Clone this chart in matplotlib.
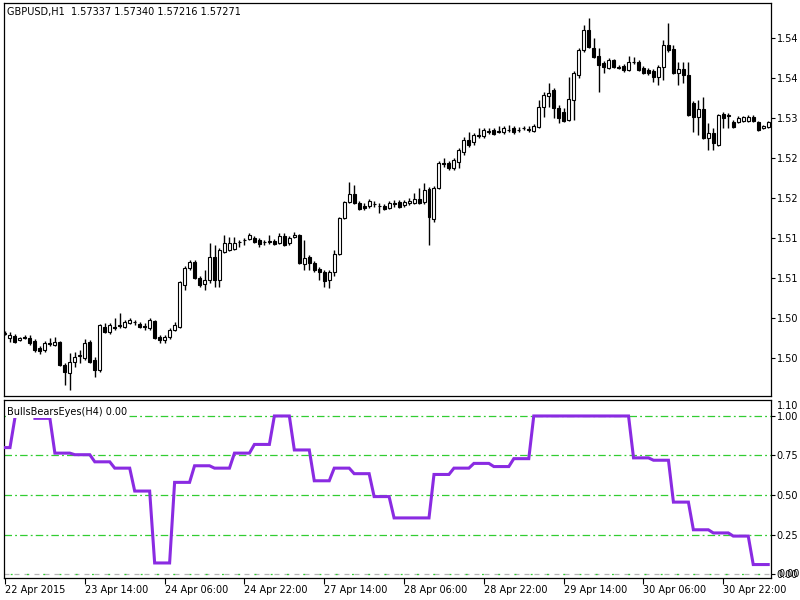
import matplotlib
matplotlib.use('Agg')
import matplotlib.pyplot as plt
import numpy as np

# GBPUSD H1 bars
opens = [1.50800, 1.50750, 1.50775, 1.50725, 1.50763, 1.50750, 1.50713, 1.50625, 1.50600, 1.50688,
         1.50663, 1.50700, 1.50413, 1.50313, 1.50450, 1.50525, 1.50500, 1.50700, 1.50475, 1.50350,
         1.50888, 1.50825, 1.50888, 1.50913, 1.50888, 1.50938, 1.50950, 1.50925, 1.50900, 1.50875,
         1.50963, 1.50763, 1.50725, 1.50763, 1.50850, 1.50888, 1.51413, 1.51625, 1.51700, 1.51500,
         1.51425, 1.51475, 1.51763, 1.51475, 1.51825, 1.51850, 1.51863, 1.51950, 1.51975, 1.51988,
         1.52000, 1.51975, 1.51950, 1.51963, 1.51963, 1.51938, 1.52025, 1.51938, 1.52013, 1.52038,
         1.51675, 1.51763, 1.51688, 1.51613, 1.51575, 1.51475, 1.51575, 1.51800, 1.52250, 1.52450,
         1.52550, 1.52438, 1.52400, 1.52400, 1.52425, 1.52400, 1.52400, 1.52375, 1.52438, 1.52450,
         1.52413, 1.52438, 1.52438, 1.52488, 1.52450, 1.52613, 1.52238, 1.52625, 1.52938, 1.52938,
         1.52875, 1.52950, 1.53075, 1.53225, 1.53200, 1.53288, 1.53275, 1.53338, 1.53350, 1.53338,
         1.53325, 1.53350, 1.53375, 1.53350, 1.53375, 1.53363, 1.53338, 1.53388, 1.53638, 1.53775,
         1.53850, 1.53625, 1.53575, 1.53475, 1.53725, 1.54038, 1.54350, 1.54600, 1.54375, 1.54275,
         1.54188, 1.54125, 1.54225, 1.54138, 1.54150, 1.54100, 1.54200, 1.54200, 1.54125, 1.54100,
         1.54088, 1.54013, 1.54138, 1.54413, 1.54363, 1.54063, 1.54113, 1.54038, 1.53688, 1.53513,
         1.53613, 1.53250, 1.53313, 1.53163, 1.53550, 1.53538, 1.53450, 1.53450, 1.53463, 1.53463,
         1.53513, 1.53450, 1.53375, 1.53388]
highs = [1.50838, 1.50825, 1.50800, 1.50763, 1.50788, 1.50788, 1.50738, 1.50650, 1.50713, 1.50750,
         1.50763, 1.50713, 1.50438, 1.50563, 1.50575, 1.50600, 1.50738, 1.50725, 1.50513, 1.50925,
         1.50938, 1.50938, 1.51000, 1.51063, 1.50975, 1.51000, 1.50975, 1.50950, 1.50938, 1.51000,
         1.50975, 1.50788, 1.50788, 1.50875, 1.50950, 1.51463, 1.51650, 1.51725, 1.51725, 1.51525,
         1.51600, 1.51938, 1.51913, 1.51875, 1.52038, 1.52013, 1.52013, 1.51975, 1.52000, 1.52063,
         1.52025, 1.52000, 1.51975, 1.52038, 1.51988, 1.52063, 1.52063, 1.52025, 1.52075, 1.52050,
         1.51975, 1.51788, 1.51713, 1.51638, 1.51600, 1.51600, 1.51850, 1.52263, 1.52463, 1.52700,
         1.52663, 1.52463, 1.52438, 1.52488, 1.52463, 1.52438, 1.52425, 1.52463, 1.52475, 1.52475,
         1.52475, 1.52500, 1.52563, 1.52625, 1.52688, 1.52638, 1.52650, 1.52963, 1.53000, 1.52963,
         1.53000, 1.53125, 1.53263, 1.53325, 1.53313, 1.53375, 1.53375, 1.53375, 1.53375, 1.53400,
         1.53400, 1.53413, 1.53400, 1.53388, 1.53400, 1.53400, 1.53425, 1.53725, 1.53825, 1.53938,
         1.53875, 1.53663, 1.53625, 1.54013, 1.54088, 1.54375, 1.54663, 1.54750, 1.54500, 1.54375,
         1.54213, 1.54250, 1.54238, 1.54163, 1.54175, 1.54275, 1.54263, 1.54225, 1.54150, 1.54125,
         1.54113, 1.54163, 1.54475, 1.54688, 1.54413, 1.54200, 1.54200, 1.54200, 1.53713, 1.53725,
         1.53763, 1.53438, 1.53375, 1.53550, 1.53575, 1.53563, 1.53475, 1.53525, 1.53525, 1.53538,
         1.53538, 1.53463, 1.53413, 1.53463]
lows = [1.50788, 1.50700, 1.50688, 1.50713, 1.50738, 1.50663, 1.50575, 1.50550, 1.50575, 1.50650,
        1.50650, 1.50400, 1.50163, 1.50100, 1.50388, 1.50438, 1.50475, 1.50438, 1.50263, 1.50325,
        1.50813, 1.50800, 1.50850, 1.50875, 1.50875, 1.50925, 1.50913, 1.50875, 1.50850, 1.50850,
        1.50738, 1.50688, 1.50688, 1.50738, 1.50838, 1.50875, 1.51350, 1.51600, 1.51488, 1.51388,
        1.51350, 1.51438, 1.51388, 1.51388, 1.51813, 1.51838, 1.51850, 1.51888, 1.51913, 1.51975,
        1.51938, 1.51888, 1.51913, 1.51925, 1.51913, 1.51925, 1.51900, 1.51913, 1.52000, 1.51675,
        1.51600, 1.51600, 1.51575, 1.51475, 1.51388, 1.51375, 1.51525, 1.51788, 1.52238, 1.52438,
        1.52425, 1.52350, 1.52350, 1.52375, 1.52388, 1.52313, 1.52350, 1.52363, 1.52388, 1.52375,
        1.52388, 1.52413, 1.52425, 1.52425, 1.52425, 1.51913, 1.52200, 1.52613, 1.52888, 1.52850,
        1.52850, 1.52875, 1.53038, 1.53138, 1.53163, 1.53250, 1.53250, 1.53300, 1.53288, 1.53313,
        1.53300, 1.53325, 1.53300, 1.53325, 1.53350, 1.53325, 1.53325, 1.53375, 1.53513, 1.53638,
        1.53500, 1.53438, 1.53450, 1.53463, 1.53475, 1.54000, 1.54325, 1.54375, 1.54250, 1.53825,
        1.54063, 1.54113, 1.54125, 1.54113, 1.54075, 1.54088, 1.54175, 1.54088, 1.54050, 1.54038,
        1.53950, 1.53913, 1.53975, 1.54325, 1.54050, 1.53913, 1.53938, 1.53525, 1.53325, 1.53288,
        1.53238, 1.53100, 1.53100, 1.53150, 1.53375, 1.53375, 1.53375, 1.53438, 1.53450, 1.53450,
        1.53450, 1.53338, 1.53363, 1.53375]
closes = [1.50813, 1.50788, 1.50700, 1.50750, 1.50756, 1.50688, 1.50600, 1.50588, 1.50688, 1.50681,
          1.50700, 1.50413, 1.50325, 1.50450, 1.50513, 1.50538, 1.50688, 1.50450, 1.50350, 1.50913,
          1.50825, 1.50913, 1.50875, 1.50900, 1.50950, 1.50975, 1.50944, 1.50888, 1.50888, 1.50975,
          1.50750, 1.50725, 1.50763, 1.50850, 1.50913, 1.51450, 1.51625, 1.51700, 1.51500, 1.51413,
          1.51475, 1.51763, 1.51475, 1.51850, 1.51938, 1.51938, 1.51938, 1.51944, 1.51969, 1.52038,
          1.51950, 1.51925, 1.51944, 1.51956, 1.51925, 1.52025, 1.51913, 1.52000, 1.52038, 1.51688,
          1.51750, 1.51688, 1.51600, 1.51575, 1.51463, 1.51575, 1.51800, 1.52250, 1.52450, 1.52550,
          1.52438, 1.52363, 1.52375, 1.52463, 1.52419, 1.52394, 1.52363, 1.52438, 1.52431, 1.52388,
          1.52450, 1.52463, 1.52488, 1.52438, 1.52600, 1.52263, 1.52625, 1.52938, 1.52931, 1.52875,
          1.52975, 1.53100, 1.53225, 1.53163, 1.53288, 1.53281, 1.53350, 1.53331, 1.53300, 1.53331,
          1.53375, 1.53344, 1.53325, 1.53344, 1.53369, 1.53356, 1.53400, 1.53638, 1.53788, 1.53813,
          1.53625, 1.53500, 1.53463, 1.53738, 1.54063, 1.54350, 1.54600, 1.54388, 1.54263, 1.54163,
          1.54138, 1.54225, 1.54138, 1.54131, 1.54100, 1.54200, 1.54194, 1.54100, 1.54063, 1.54063,
          1.54013, 1.54138, 1.54413, 1.54350, 1.54063, 1.54113, 1.54038, 1.53538, 1.53513, 1.53613,
          1.53250, 1.53313, 1.53188, 1.53538, 1.53500, 1.53531, 1.53388, 1.53500, 1.53513, 1.53513,
          1.53463, 1.53350, 1.53400, 1.53450]

# BullsBearsEyes(H4) values, one per H1 bar
nan = np.nan
bbe = [0.80, 0.80, 0.99, nan, nan, nan, 0.985, 0.985, 0.985, 0.985,
       0.765, 0.765, 0.765, 0.765, 0.755, 0.755, 0.755, 0.755, 0.71, 0.71,
       0.71, 0.71, 0.67, 0.67, 0.67, 0.67, 0.525, 0.525, 0.525, 0.525,
       0.07, 0.07, 0.07, 0.07, 0.58, 0.58, 0.58, 0.58, 0.685, 0.685,
       0.685, 0.685, 0.67, 0.67, 0.67, 0.67, 0.765, 0.765, 0.765, 0.765,
       0.82, 0.82, 0.82, 0.82, 1.0, 1.0, 1.0, 1.0, 0.785, 0.785,
       0.785, 0.785, 0.59, 0.59, 0.59, 0.59, 0.67, 0.67, 0.67, 0.67,
       0.635, 0.635, 0.635, 0.635, 0.49, 0.49, 0.49, 0.49, 0.355, 0.355,
       0.355, 0.355, 0.355, 0.355, 0.355, 0.355, 0.63, 0.63, 0.63, 0.63,
       0.67, 0.67, 0.67, 0.67, 0.70, 0.70, 0.70, 0.70, 0.68, 0.68,
       0.68, 0.68, 0.73, 0.73, 0.73, 0.73, 1.0, 1.0, 1.0, 1.0,
       1.0, 1.0, 1.0, 1.0, 1.0, 1.0, 1.0, 1.0, 1.0, 1.0,
       1.0, 1.0, 1.0, 1.0, 1.0, 1.0, 0.735, 0.735, 0.735, 0.735,
       0.72, 0.72, 0.72, 0.72, 0.455, 0.455, 0.455, 0.455, 0.28, 0.28,
       0.28, 0.28, 0.26, 0.26, 0.26, 0.26, 0.24, 0.24, 0.24, 0.24,
       0.06, 0.06, 0.06, 0.06]

price_ticks = [1.545, 1.540, 1.535, 1.530, 1.525, 1.520, 1.515, 1.510, 1.505]
price_labels = ['1.54', '1.54', '1.53', '1.52', '1.52', '1.51', '1.51', '1.50', '1.50']
ind_ticks = [1.0, 0.75, 0.5, 0.25, 0.0]
ind_labels = ['1.00', '0.75', '0.50', '0.25', '0.00']
levels = [1.0, 0.75, 0.5, 0.25]
time_ticks = [0, 16, 32, 48, 64, 80, 96, 112, 128, 144]
time_labels = ['22 Apr 2015', '23 Apr 14:00', '24 Apr 06:00', '24 Apr 22:00', '27 Apr 14:00',
               '28 Apr 06:00', '28 Apr 22:00', '29 Apr 14:00', '30 Apr 06:00', '30 Apr 22:00']

plt.rcParams['font.family'] = ['DejaVu Sans']
FS = 7

fig = plt.figure(figsize=(8, 6), dpi=100)
ax1 = fig.add_axes([0.005, 0.34, 0.959, 0.655])
ax2 = fig.add_axes([0.005, 0.0367, 0.959, 0.2966])

o = np.array(opens)
h = np.array(highs)
l = np.array(lows)
c = np.array(closes)
x = np.arange(len(c))
up = c >= o

# candles
ax1.vlines(x, l, h, color='black', lw=1, zorder=2)
bot = np.minimum(o, c)
hgt = np.maximum(np.abs(c - o), 0.00001)
ax1.bar(x[up], hgt[up], bottom=bot[up], width=0.6, color='white',
        edgecolor='black', lw=0.8, zorder=3)
ax1.bar(x[~up], hgt[~up], bottom=bot[~up], width=0.6, color='black',
        edgecolor='black', lw=0.8, zorder=3)

ax1.set_xlim(-0.2, 153.6)
ax1.set_ylim(1.50025, 1.549375)
ax1.yaxis.tick_right()
ax1.set_yticks(price_ticks)
ax1.set_yticklabels(price_labels)
ax1.set_xticks([])
ax1.tick_params(axis='y', direction='out', length=3, width=0.8, labelsize=FS, pad=1)
ax1.text(0.004, 0.978, 'GBPUSD,H1  1.57337 1.57340 1.57216 1.57271',
         transform=ax1.transAxes, fontsize=FS, va='center', ha='left')

# indicator window
for lv in levels:
    ax2.axhline(lv, color='#32cd32', lw=0.9, dashes=(6, 2.5, 1.5, 2.5), zorder=1)
ax2.axhline(0.0, color='#b8b8b8', lw=0.9, dashes=(4, 4), zorder=1)
ax2.axhline(0.0, color='#32cd32', lw=0.9, dashes=(0, 5, 1.5, 6.5), zorder=1)
ax2.plot(x, bbe, color='#8a2be2', lw=2.2, zorder=3, solid_joinstyle='miter')

ax2.set_xlim(-0.2, 153.6)
ax2.set_ylim(-0.025, 1.101)
ax2.yaxis.tick_right()
ax2.set_yticks(ind_ticks)
ax2.set_yticklabels(ind_labels)
ax2.tick_params(axis='y', direction='out', length=3, width=0.8, labelsize=FS, pad=1)
ax2.set_xticks(time_ticks)
ax2.set_xticklabels(time_labels, ha='left')
ax2.tick_params(axis='x', direction='out', length=4, width=0.8, labelsize=FS, pad=1)
ax2.annotate('1.10', xy=(1, 1.10), xycoords=('axes fraction', 'data'),
             xytext=(4, -4), textcoords='offset points', fontsize=FS, va='center')
ax2.annotate('0.00', xy=(1, 0.0), xycoords=('axes fraction', 'data'),
             xytext=(5.5, 0), textcoords='offset points', fontsize=FS, va='center')
ax2.text(0.004, 0.93, 'BullsBearsEyes(H4) 0.00', transform=ax2.transAxes,
         fontsize=FS, va='center', ha='left', zorder=5,
         bbox=dict(facecolor='white', edgecolor='none', pad=0.5))

for ax in (ax1, ax2):
    for s in ax.spines.values():
        s.set_linewidth(0.9)

fig.savefig('out.png', dpi=100, facecolor='white')
